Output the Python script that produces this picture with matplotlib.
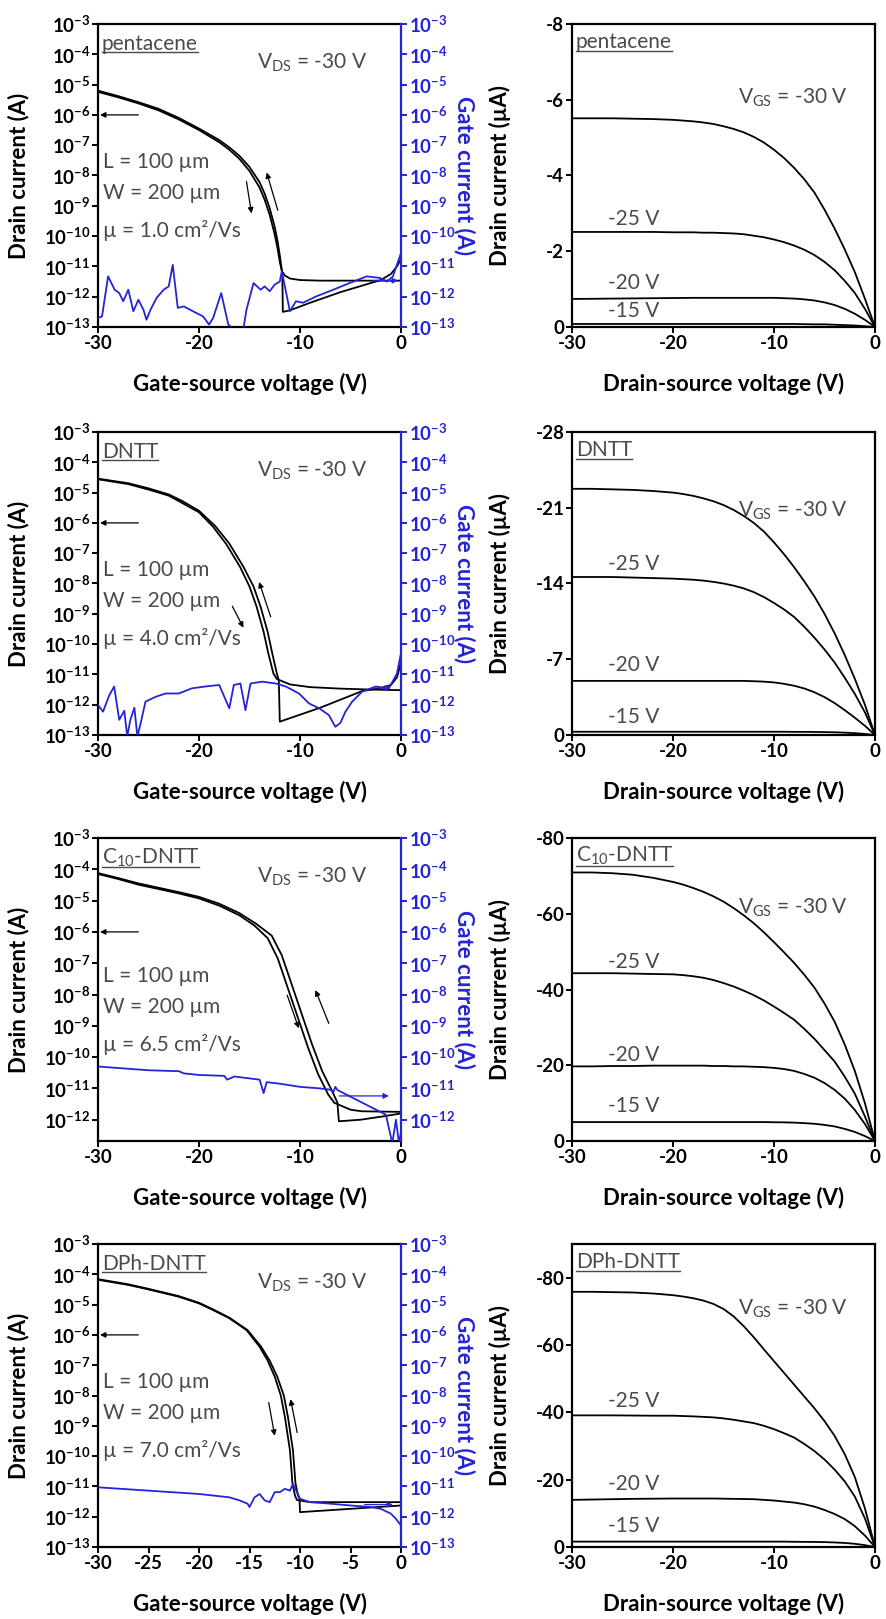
import matplotlib
matplotlib.use("Agg")

import math
import matplotlib.pyplot as plt
from matplotlib.lines import Line2D
from matplotlib.ticker import FixedLocator, FuncFormatter, NullLocator
import numpy as np

plt.rcParams['font.family'] = ['Lato', 'DejaVu Sans']
plt.rcParams['mathtext.fontset'] = 'custom'
plt.rcParams['mathtext.rm'] = 'Lato'
plt.rcParams['mathtext.bf'] = 'Lato:bold'
plt.rcParams['mathtext.it'] = 'Lato:italic'
plt.rcParams['axes.unicode_minus'] = False

BLUE = '#2424d6'
GRAY = '#4a4a4a'

# ---------------- transfer curves (log10 of current in A) ----------------
# pentacene
pen_vg_a = [-30, -28, -26, -24, -22, -20, -18, -17, -16, -15, -14, -13.5, -13, -12.5, -12.2, -12.0, -11.8,
            -11.5, -11, -10, -8, -5, -2, 0]
pen_id_a = [-5.24, -5.42, -5.62, -5.85, -6.15, -6.5, -6.9, -7.15, -7.45, -7.85, -8.4, -8.8, -9.3, -9.95,
            -10.45, -10.85, -11.15, -11.3, -11.4, -11.45, -11.47, -11.47, -11.47, -11.47]
pen_vg_b = [-30, -28, -26, -24, -22, -20, -18, -17, -16, -15, -14, -13.5, -13, -12.5, -12.2, -11.95, -11.75,
            -11.7, -11.0, -9, -6, -4, -2, -1, -0.4, 0]
pen_id_b = [-5.2, -5.38, -5.58, -5.8, -6.1, -6.45, -6.83, -7.07, -7.35, -7.72, -8.22, -8.6, -9.08, -9.7,
            -10.2, -10.75, -11.25, -12.5, -12.45, -12.2, -11.85, -11.65, -11.45, -11.25, -11.0, -10.75]
pen_vg_g = [-30, -29.6, -29.0, -28.35, -27.9, -27.5, -27.0, -26.5, -26.0, -25.5, -25.2, -24.8, -24.2,
            -23.5, -23.0, -22.6, -22.1, -21.5, -20.6, -19.6, -19.0, -18.6, -17.8, -17.1, -16.6, -15.6,
            -15.3, -14.6, -13.9, -13.5, -13.0, -12.5, -12.0, -11.8, -11.0, -10.4, -9.7, -8.4, -6.7,
            -5.1, -3.4, -2.1, -1.4, -0.8, 0]
pen_ig = [-12.7, -12.65, -11.33, -11.77, -11.88, -12.15, -11.77, -12.48, -12.1, -12.43, -12.76, -12.43,
          -12.04, -11.77, -11.66, -10.95, -12.37, -12.32, -12.48, -12.65, -12.92, -12.7, -11.88, -12.92,
          -13.05, -13.05, -12.43, -11.55, -11.77, -11.66, -11.82, -11.6, -11.5, -11.16, -12.48, -12.15,
          -12.2, -11.99, -11.77, -11.55, -11.33, -11.38, -11.5, -11.33, -10.56]

# DNTT
dn_vg_a = [-30, -27, -25, -23, -21.9, -20, -18.6, -17.3, -15.94, -15.0, -14.29, -13.6, -13.14, -12.64,
           -12.3, -11, -9, -6, -3, 0]
dn_id_a = [-4.56, -4.72, -4.9, -5.1, -5.3, -5.65, -6.13, -6.7, -7.45, -8.1, -8.77, -9.6, -10.3, -10.96,
           -11.15, -11.33, -11.42, -11.47, -11.5, -11.52]
dn_vg_b = [-30, -27, -25, -23, -21.7, -20, -18.4, -17.0, -15.6, -14.6, -13.9, -13.2, -12.75, -12.3, -12.1,
           -12.0, -8, -3.85, -2, -1, -0.4, 0]
dn_id_b = [-4.54, -4.69, -4.86, -5.06, -5.27, -5.6, -6.1, -6.68, -7.45, -8.1, -8.77, -9.6, -10.3, -10.96,
           -11.2, -12.56, -12.1, -11.55, -11.45, -11.35, -11.1, -10.6]
dn_vg_g = [-30, -29.5, -28.9, -28.4, -27.9, -27.4, -27.1, -26.8, -26.4, -26.1, -25.7, -25.3, -24.3, -23.3,
           -22.0, -20.7, -19.4, -18.0, -17.0, -16.55, -15.9, -15.4, -14.9, -13.75, -12.4, -11.4, -10.1,
           -9.1, -8.1, -7.15, -6.5, -6.0, -5.5, -4.84, -3.85, -2.5, -1.2, -0.4, 0]
dn_ig = [-12.01, -12.23, -11.7, -11.4, -12.5, -12.2, -13.05, -12.5, -12.1, -13.05, -12.5, -11.9, -11.74,
         -11.63, -11.63, -11.46, -11.4, -11.35, -12.12, -11.35, -11.3, -12.18, -11.3, -11.24, -11.3,
         -11.4, -11.63, -11.96, -12.12, -12.34, -12.73, -12.6, -12.23, -11.9, -11.57, -11.4, -11.46,
         -10.97, -10.3]

# C10-DNTT
c10_vg_a = [-30, -28, -26, -24, -22, -20, -18, -16, -14.5, -13.2, -12.2, -11.2, -10.2, -9.2, -8.2, -7.2,
            -6.6, -5, -3.9, 0]
c10_id_a = [-4.15, -4.31, -4.49, -4.63, -4.77, -4.93, -5.16, -5.47, -5.8, -6.2, -6.85, -7.8, -8.75, -9.7,
            -10.55, -11.2, -11.46, -11.68, -11.73, -11.75]
c10_vg_b = [-30, -28, -26, -24, -22, -20, -18, -16, -14.3, -12.8, -11.8, -10.8, -9.8, -8.8, -7.8, -6.8,
            -6.3, -6.15, -4, -1.9, 0]
c10_id_b = [-4.12, -4.28, -4.45, -4.59, -4.73, -4.88, -5.1, -5.4, -5.75, -6.12, -6.75, -7.7, -8.65, -9.6,
            -10.45, -11.1, -11.45, -12.05, -12.0, -11.9, -11.8]
c10_vg_g = [-30, -25, -22, -21.5, -20, -17.5, -17.2, -16.5, -14, -13.6, -13.3, -12, -11, -10, -8, -7,
            -6.7, -6.5, -6.3, -1.5, -0.86, -0.5, -0.2, 0]
c10_ig = [-10.3, -10.42, -10.45, -10.52, -10.57, -10.6, -10.72, -10.62, -10.72, -11.15, -10.8, -10.85,
          -10.9, -10.95, -11.0, -11.04, -11.12, -10.95, -11.05, -11.84, -12.75, -12.0, -12.75, -12.4]

# DPh-DNTT
dph_vg_a = [-30, -27, -25, -22, -20, -18.6, -17, -15.3, -14, -13.2, -12.5, -11.9, -11.5, -11.0, -10.75,
            -10.5, -10.3, -9, 0]
dph_id_a = [-4.18, -4.35, -4.5, -4.74, -4.96, -5.18, -5.45, -5.84, -6.39, -6.85, -7.38, -8.0, -8.7, -9.8,
            -10.89, -11.3, -11.45, -11.52, -11.52]
dph_vg_b = [-30, -27, -25, -22, -20, -18.6, -17, -15.2, -13.85, -13.0, -12.25, -11.6, -11.2, -10.7, -10.45,
            -10.2, -10.05, -10.0, 0]
dph_id_b = [-4.16, -4.33, -4.48, -4.72, -4.94, -5.16, -5.43, -5.84, -6.39, -6.85, -7.38, -8.0, -8.7, -9.8,
            -10.89, -11.3, -11.4, -11.85, -11.63]
dph_vg_g = [-30, -25, -20, -17, -16, -15.2, -15, -14.5, -14, -13.5, -13, -12.5, -12, -11.5, -11, -10.7,
            -10.3, -10, -9, -7, -5, -3, -2, -1, -0.5, 0]
dph_ig = [-11.03, -11.14, -11.25, -11.36, -11.46, -11.57, -11.68, -11.36, -11.25, -11.46, -11.52, -11.19,
          -11.19, -11.08, -11.14, -10.92, -11.19, -11.41, -11.52, -11.57, -11.63, -11.68, -11.74, -11.9,
          -12.07, -12.29]

# ---------------- output curves (drain current in uA) ----------------
vds = [-30, -28, -26, -24, -22, -20, -19, -18, -17, -16, -15, -14, -13, -12, -11, -10, -9, -8, -7, -6,
       -5, -4, -3, -2, -1, 0]

pen_out_30 = [-5.51, -5.51, -5.51, -5.5, -5.49, -5.47, -5.45, -5.43, -5.4, -5.36, -5.3, -5.23, -5.14,
              -5.02, -4.87, -4.68, -4.46, -4.2, -3.9, -3.55, -3.1, -2.6, -2.05, -1.45, -0.75, 0]
pen_out_25 = [-2.51, -2.51, -2.51, -2.51, -2.51, -2.5, -2.5, -2.5, -2.49, -2.49, -2.48, -2.47, -2.45,
              -2.41, -2.37, -2.31, -2.24, -2.15, -2.04, -1.9, -1.72, -1.5, -1.22, -0.9, -0.48, 0]
pen_out_20 = [-0.74, -0.745, -0.75, -0.755, -0.76, -0.765, -0.767, -0.77, -0.77, -0.77, -0.77, -0.77,
              -0.77, -0.77, -0.77, -0.77, -0.76, -0.75, -0.73, -0.7, -0.65, -0.58, -0.48, -0.35, -0.19, 0]
pen_out_15 = [-0.08, -0.08, -0.08, -0.08, -0.08, -0.08, -0.08, -0.08, -0.08, -0.08, -0.08, -0.08, -0.08,
              -0.08, -0.08, -0.08, -0.08, -0.08, -0.075, -0.07, -0.07, -0.06, -0.05, -0.04, -0.02, 0]

dn_out_30 = [-22.75, -22.75, -22.7, -22.65, -22.55, -22.4, -22.27, -22.1, -21.87, -21.6, -21.25, -20.8,
             -20.25, -19.6, -18.8, -17.8, -16.7, -15.5, -14.2, -12.8, -11.2, -9.4, -7.4, -5.2, -2.8, 0]
dn_out_25 = [-14.6, -14.6, -14.6, -14.55, -14.5, -14.45, -14.4, -14.35, -14.27, -14.15, -14.0, -13.8,
             -13.55, -13.2, -12.75, -12.2, -11.6, -10.9, -10.0, -9.0, -7.9, -6.7, -5.3, -3.8, -2.1, 0]
dn_out_20 = [-5.0, -5.0, -5.0, -5.0, -5.0, -5.0, -5.0, -5.0, -5.0, -5.0, -5.0, -5.0, -5.0, -4.97, -4.93,
             -4.86, -4.73, -4.55, -4.3, -3.95, -3.5, -2.95, -2.3, -1.6, -0.85, 0]
dn_out_15 = [-0.3, -0.3, -0.3, -0.3, -0.3, -0.3, -0.3, -0.3, -0.3, -0.3, -0.3, -0.3, -0.3, -0.3, -0.3,
             -0.3, -0.3, -0.29, -0.29, -0.28, -0.27, -0.25, -0.22, -0.17, -0.1, 0]

c10_out_30 = [-70.9, -70.9, -70.7, -70.3, -69.5, -68.4, -67.7, -66.8, -65.8, -64.6, -63.2, -61.5, -59.6,
              -57.5, -55.1, -52.5, -49.8, -47, -43.9, -40.5, -36.3, -31.5, -25.5, -18.5, -10, 0]
c10_out_25 = [-44.3, -44.3, -44.3, -44.2, -44.1, -44.0, -43.8, -43.5, -43.1, -42.5, -41.7, -40.8, -39.7,
              -38.5, -37.1, -35.5, -33.8, -32, -29.6, -27, -24, -21, -17, -12.5, -6.5, 0]
c10_out_20 = [-19.7, -19.7, -19.8, -19.8, -19.9, -19.9, -19.9, -19.9, -19.9, -19.8, -19.8, -19.7, -19.7,
              -19.6, -19.5, -19.3, -19.0, -18.5, -17.7, -16.7, -15.3, -13.5, -11.2, -8.2, -4.5, 0]
c10_out_15 = [-5.0, -5.0, -5.0, -5.0, -5.0, -5.0, -5.0, -5.0, -5.0, -5.0, -5.0, -5.0, -5.0, -5.0, -5.0,
              -4.95, -4.92, -4.85, -4.72, -4.55, -4.25, -3.85, -3.2, -2.4, -1.3, 0]

dph_out_30 = [-75.8, -75.8, -75.7, -75.6, -75.3, -74.8, -74.4, -73.9, -73.2, -72.2, -70.7, -68.5, -65.6,
              -62.3, -58.7, -55.2, -51.7, -48.2, -44.7, -41.2, -37.4, -33, -27.6, -20.8, -11.5, 0]
dph_out_25 = [-39.1, -39.1, -39.1, -39.05, -39.0, -39.0, -38.9, -38.8, -38.65, -38.5, -38.2, -37.8, -37.3,
              -36.8, -36.0, -35.0, -33.8, -32.5, -30.6, -28.5, -26.0, -23.0, -19.5, -15, -8.5, 0]
dph_out_20 = [-14.0, -14.1, -14.2, -14.3, -14.35, -14.4, -14.4, -14.4, -14.4, -14.4, -14.35, -14.3, -14.25,
              -14.2, -14.0, -13.8, -13.5, -13.2, -12.7, -12.0, -11.0, -9.8, -8.3, -6.2, -3.4, 0]
dph_out_15 = [-1.6, -1.6, -1.6, -1.6, -1.6, -1.6, -1.6, -1.6, -1.6, -1.6, -1.6, -1.6, -1.6, -1.6, -1.6,
              -1.6, -1.6, -1.55, -1.52, -1.5, -1.45, -1.35, -1.2, -0.95, -0.55, 0]

names = ['pentacene', 'DNTT', 'C$_{10}$-DNTT', 'DPh-DNTT']
mobilities = ['1.0', '4.0', '6.5', '7.0']

W, H = 886, 1619
fig = plt.figure(figsize=(W / 100, H / 100), dpi=100)
row_tops = [24, 432, 838, 1244]
AX_W, AX_H = 303, 303
TXT = 15
LAB = 16
TICK = 13.5
underline_texts = []


def add_axes(left_px, top_px):
    return fig.add_axes([left_px / W, 1 - (top_px + AX_H) / H, AX_W / W, AX_H / H])


def style(ax, color='black'):
    for s in ax.spines.values():
        s.set_linewidth(1.6)
    ax.tick_params(direction='out', length=4, width=1.4, labelsize=TICK, colors=color, pad=1.5)
    for lab in ax.get_xticklabels() + ax.get_yticklabels():
        lab.set_fontweight('bold')


log_fmt = FuncFormatter(lambda v, p: r'$\mathbf{10^{%d}}$' % round(np.log10(v)))


def decades(ymin):
    return FixedLocator([10.0 ** k for k in range(math.ceil(ymin - 1e-9), -2)])


def transfer(row, vg_a, id_a, vg_b, id_b, vg_g, ig, ymin, xticks, down_arr, up_arr, right_arr):
    ax = add_axes(98, row_tops[row])
    ax.plot(vg_a, 10 ** np.array(id_a), color='black', lw=1.3)
    ax.plot(vg_b, 10 ** np.array(id_b), color='black', lw=1.3)
    ax.set_yscale('log')
    ax.set_xlim(-30, 0)
    ax.set_ylim(10 ** ymin, 1e-3)
    ax.set_xticks(xticks)
    ax.yaxis.set_major_locator(decades(ymin))
    ax.yaxis.set_minor_locator(NullLocator())
    ax.yaxis.set_major_formatter(log_fmt)
    ax.spines['right'].set_visible(False)
    ax.set_xlabel('Gate-source voltage (V)', fontsize=LAB, fontweight='bold')
    ax.xaxis.set_label_coords(0.5, -0.15)
    ax.set_ylabel('Drain current (A)', fontsize=LAB, fontweight='bold')
    ax.yaxis.set_label_coords(-0.225, 0.5)
    style(ax)

    tw = ax.twinx()
    tw.plot(vg_g, 10 ** np.array(ig), color=BLUE, lw=1.3)
    tw.set_yscale('log')
    tw.set_ylim(10 ** ymin, 1e-3)
    tw.yaxis.set_major_locator(decades(ymin))
    tw.yaxis.set_minor_locator(NullLocator())
    tw.yaxis.set_major_formatter(log_fmt)
    for k in ['left', 'top', 'bottom']:
        tw.spines[k].set_visible(False)
    style(tw, BLUE)
    tw.spines['right'].set_color(BLUE)
    tw.set_ylabel('Gate current (A)', fontsize=LAB, fontweight='bold', color=BLUE, rotation=270)
    tw.yaxis.set_label_coords(1.245, 0.5)

    # arrows showing sweep direction and axis assignment
    arrow = dict(arrowstyle='-|>', color='black', lw=0.9, mutation_scale=8, shrinkA=0, shrinkB=0)
    ax.annotate('', xy=(-29.8, 1e-6), xytext=(-26.0, 1e-6), arrowprops=arrow)
    ax.annotate('', xy=(down_arr[2], 10 ** down_arr[3]), xytext=(down_arr[0], 10 ** down_arr[1]),
                arrowprops=arrow)
    ax.annotate('', xy=(up_arr[2], 10 ** up_arr[3]), xytext=(up_arr[0], 10 ** up_arr[1]),
                arrowprops=arrow)
    barrow = dict(arrow, color=BLUE)
    tw.annotate('', xy=(right_arr[1], 10 ** right_arr[2]), xytext=(right_arr[0], 10 ** right_arr[2]),
                arrowprops=barrow)

    t = ax.text(0.012, 0.935, names[row], transform=ax.transAxes, fontsize=TXT, color=GRAY,
                va='center', ha='left')
    underline_texts.append((ax, t))
    ax.text(0.525, 0.873, 'V$_{\\mathregular{DS}}$ = -30 V', transform=ax.transAxes, fontsize=TXT,
            color=GRAY, va='center')
    ax.text(0.018, 0.545, 'L = 100 µm', transform=ax.transAxes, fontsize=TXT, color=GRAY, va='center')
    ax.text(0.018, 0.443, 'W = 200 µm', transform=ax.transAxes, fontsize=TXT, color=GRAY, va='center')
    ax.text(0.018, 0.317, 'µ = %s cm²/Vs' % mobilities[row], transform=ax.transAxes, fontsize=TXT,
            color=GRAY, va='center')


def output(row, curves, ymax, yticks, label_y):
    ax = add_axes(572, row_tops[row])
    for c in curves:
        ax.plot(vds, c, color='black', lw=1.3)
    ax.set_xlim(-30, 0)
    ax.set_ylim(0, ymax)
    ax.set_xticks([-30, -20, -10, 0])
    ax.set_yticks(yticks)
    ax.set_xlabel('Drain-source voltage (V)', fontsize=LAB, fontweight='bold')
    ax.xaxis.set_label_coords(0.5, -0.15)
    ax.set_ylabel('Drain current (µA)', fontsize=LAB, fontweight='bold')
    ax.yaxis.set_label_coords(-0.2, 0.5)
    style(ax)
    t = ax.text(0.013, 0.94, names[row], transform=ax.transAxes, fontsize=TXT, color=GRAY,
                va='center', ha='left')
    underline_texts.append((ax, t))
    ax.text(0.548, label_y[0], 'V$_{\\mathregular{GS}}$ = -30 V', transform=ax.transAxes,
            fontsize=TXT, color=GRAY, va='center')
    for lab, yy in zip(['-25 V', '-20 V', '-15 V'], label_y[1:]):
        ax.text(0.118, yy, lab, transform=ax.transAxes, fontsize=TXT, color=GRAY, va='center')


transfer(0, pen_vg_a, pen_id_a, pen_vg_b, pen_id_b, pen_vg_g, pen_ig, -13, [-30, -20, -10, 0],
         (-15.3, -8.2, -14.8, -9.25), (-12.2, -9.15, -13.3, -7.9), (-2.8, -0.3, -11.47))
transfer(1, dn_vg_a, dn_id_a, dn_vg_b, dn_id_b, dn_vg_g, dn_ig, -13, [-30, -20, -10, 0],
         (-16.7, -8.75, -15.6, -9.46), (-12.9, -9.1, -14.05, -7.95), (-2.6, -1.0, -11.45))
transfer(2, c10_vg_a, c10_id_a, c10_vg_b, c10_id_b, c10_vg_g, c10_ig, -12.68, [-30, -20, -10, 0],
         (-11.27, -8.02, -10.12, -9.08), (-7.15, -8.92, -8.47, -7.86), (-6.1, -1.2, -11.24))
transfer(3, dph_vg_a, dph_id_a, dph_vg_b, dph_id_b, dph_vg_g, dph_ig, -13,
         [-30, -25, -20, -15, -10, -5, 0],
         (-13.1, -8.23, -12.5, -9.33), (-10.28, -9.22, -10.94, -8.12), (-3.6, -0.8, -11.6))

output(0, [pen_out_30, pen_out_25, pen_out_20, pen_out_15], -8, [0, -2, -4, -6, -8],
       [0.757, 0.355, 0.145, 0.052])
output(1, [dn_out_30, dn_out_25, dn_out_20, dn_out_15], -28, [0, -7, -14, -21, -28],
       [0.74, 0.564, 0.232, 0.061])
output(2, [c10_out_30, c10_out_25, c10_out_20, c10_out_15], -80, [0, -20, -40, -60, -80],
       [0.768, 0.592, 0.285, 0.115])
output(3, [dph_out_30, dph_out_25, dph_out_20, dph_out_15], -90, [0, -20, -40, -60, -80],
       [0.787, 0.483, 0.207, 0.07])

# underline the material names
fig.canvas.draw()
r = fig.canvas.get_renderer()
for ax, t in underline_texts:
    bb = t.get_window_extent(r).transformed(ax.transAxes.inverted())
    ax.add_line(Line2D([bb.x0, bb.x1], [bb.y0 + 0.005, bb.y0 + 0.005], transform=ax.transAxes,
                       color=GRAY, lw=1.0))

fig.savefig('out.png', dpi=100)
